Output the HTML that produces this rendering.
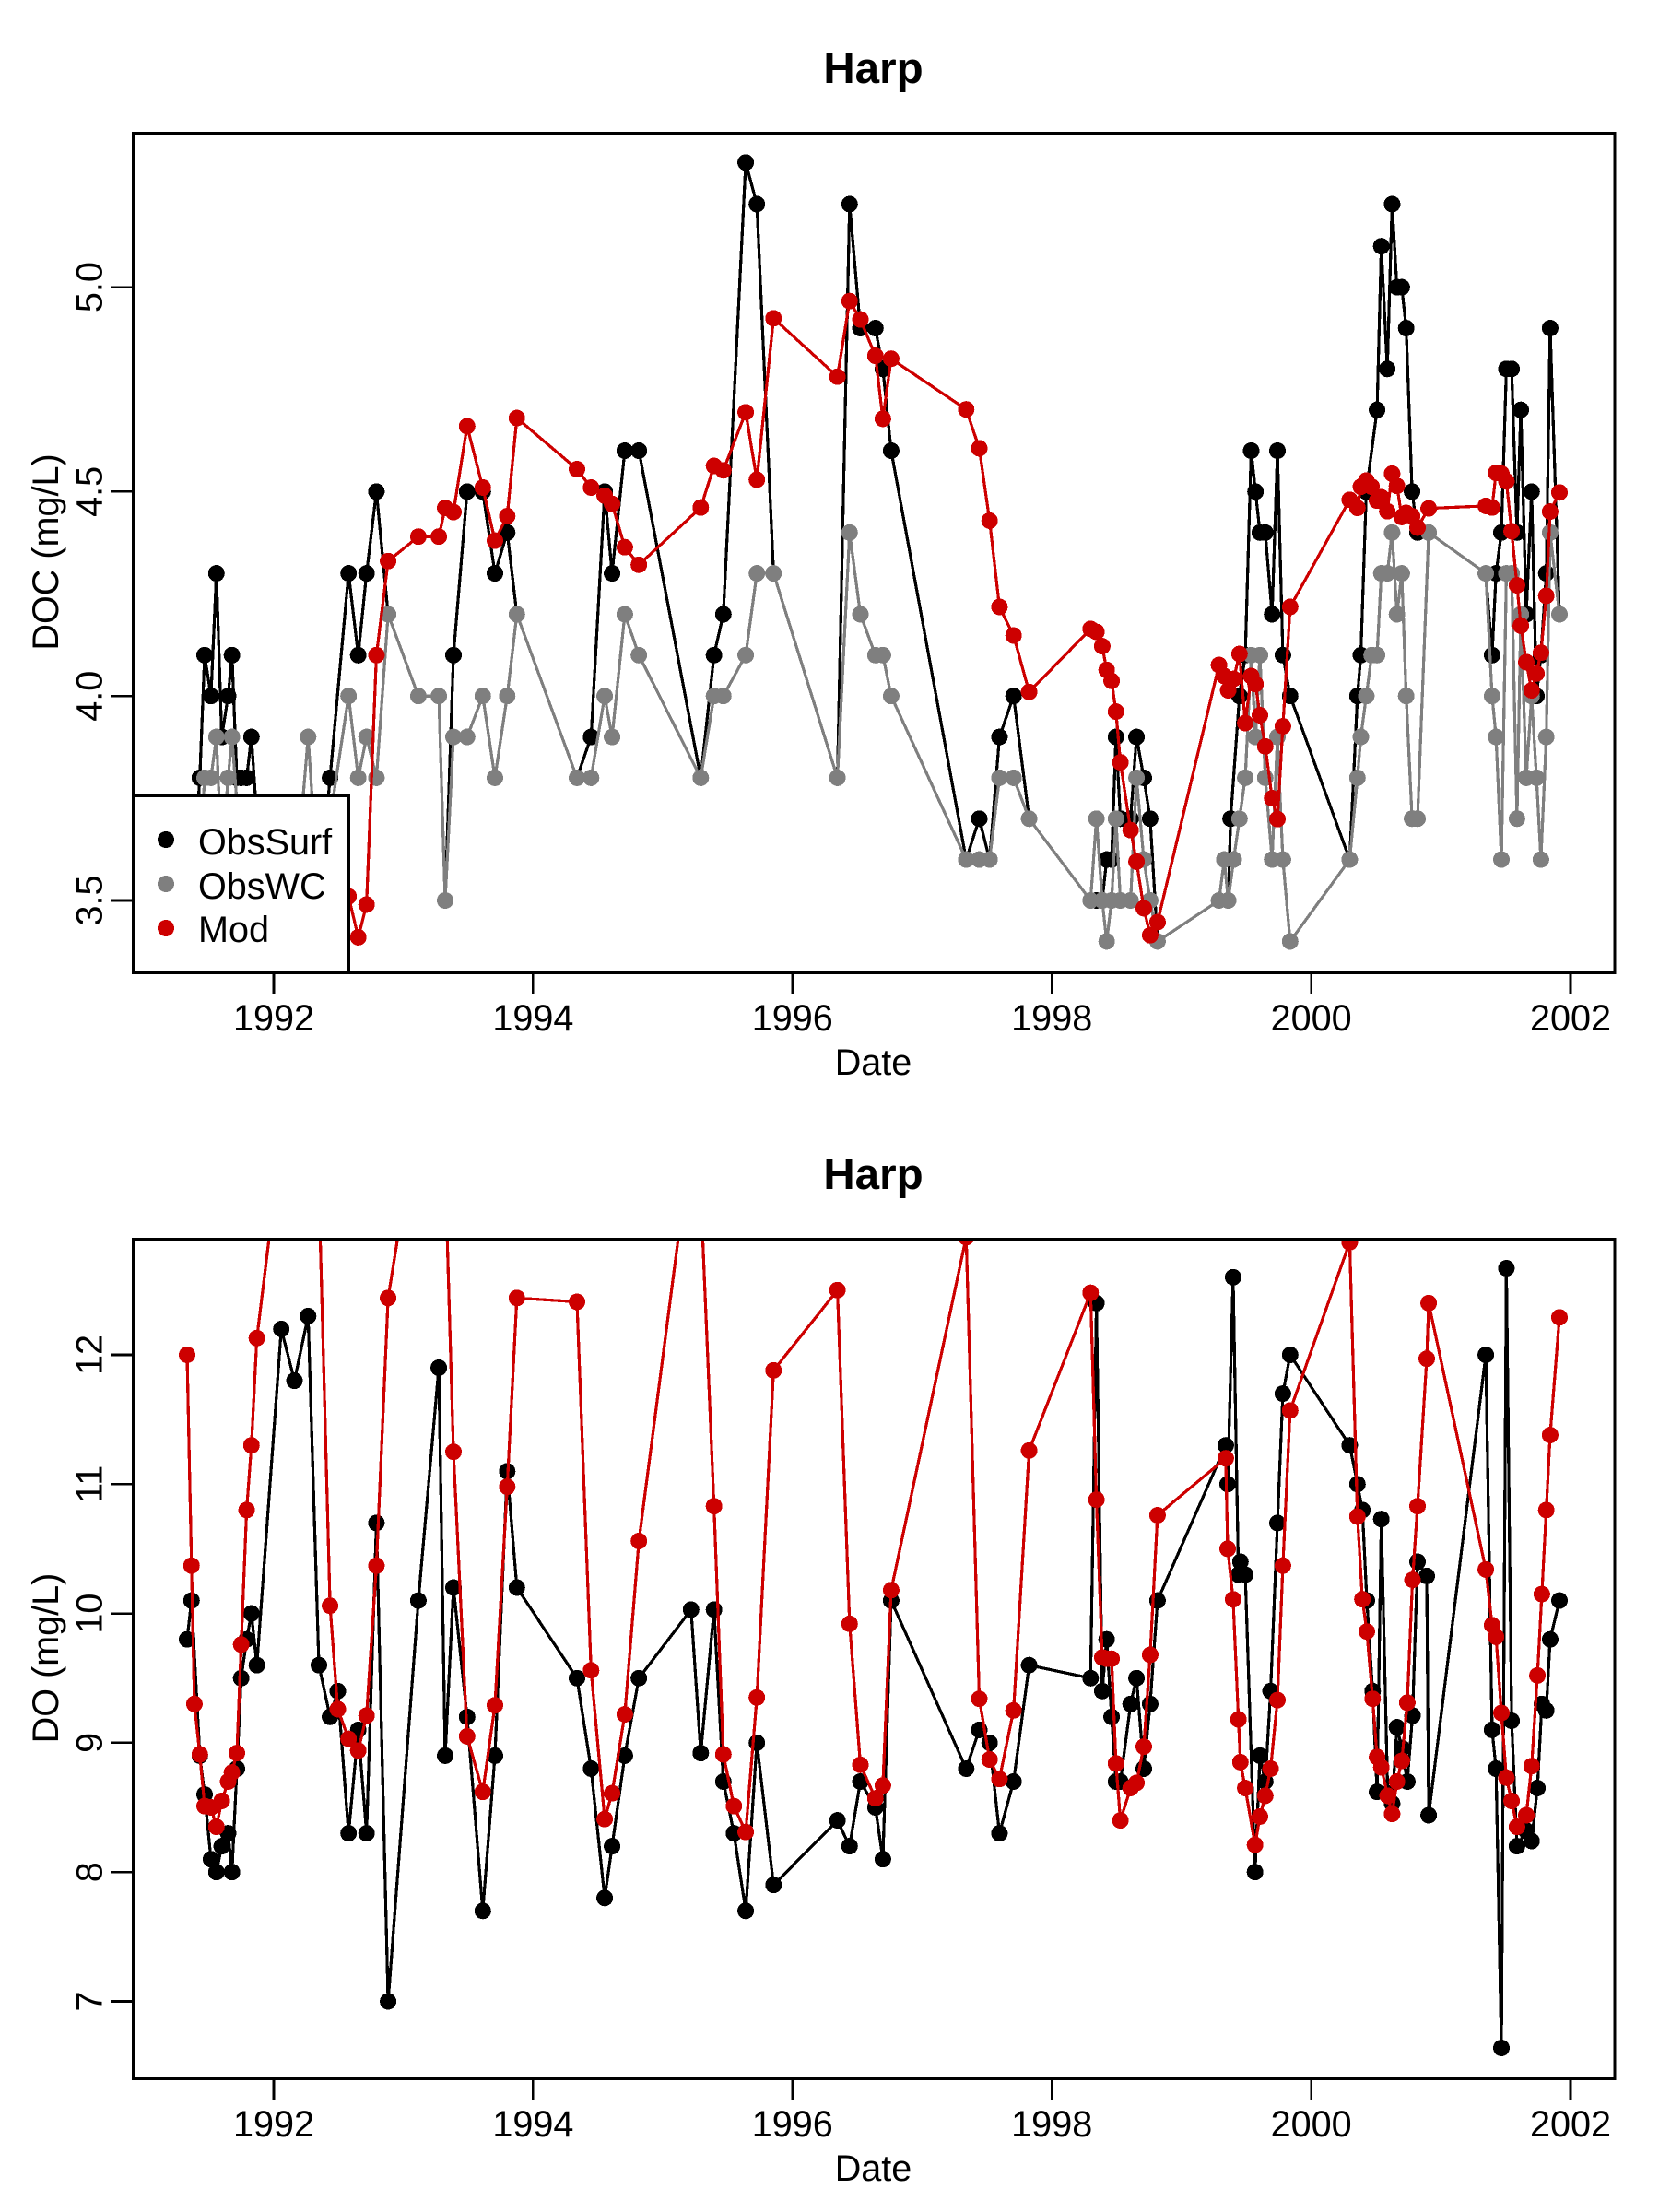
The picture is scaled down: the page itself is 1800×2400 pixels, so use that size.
<!DOCTYPE html>
<html lang="en">
<head>
<meta charset="utf-8">
<title>Harp DOC and DO time series</title>
<style>
html,body{margin:0;padding:0;background:#fff;}
svg{display:block;font-family:"Liberation Sans",Arial,sans-serif;}
.mk{shape-rendering:crispEdges;}
text{fill:#000;}
</style>
</head>
<body>
<svg id="chart" width="1800" height="2400" viewBox="0 0 1800 2400" xmlns="http://www.w3.org/2000/svg">
  <rect x="0" y="0" width="1800" height="2400" fill="#fff"/>
  <defs>
    <clipPath id="clip-doc"><rect x="144.5" y="144" width="1607.5" height="911"/></clipPath>
    <clipPath id="clip-do"><rect x="144.5" y="1344" width="1607.5" height="911"/></clipPath>
  </defs>

  <g id="panel-doc">
    <text x="947.5" y="90" font-size="47.5" font-weight="bold" text-anchor="middle">Harp</text>
    <g id="doc-marks" clip-path="url(#clip-doc)"></g>
    <g id="doc-axes"></g>
    <text x="947.5" y="1166" font-size="39.6" text-anchor="middle">Date</text>
    <text transform="translate(63,599) rotate(-90)" font-size="39.6" text-anchor="middle">DOC (mg/L)</text>
    <g>
      <rect class="mk" x="144.5" y="863.5" width="234" height="192" fill="#fff" stroke="#000" stroke-width="3"/>
      <g>
        <circle class="mk" cx="180" cy="911" r="9" fill="#000"/>
        <text x="215" y="927" font-size="39.6">ObsSurf</text>
      </g>
      <g>
        <circle class="mk" cx="180" cy="959" r="9" fill="#7f7f7f"/>
        <text x="215" y="975" font-size="39.6">ObsWC</text>
      </g>
      <g>
        <circle class="mk" cx="180" cy="1007" r="9" fill="#cd0000"/>
        <text x="215" y="1022" font-size="39.6">Mod</text>
      </g>
    </g>
  </g>

  <g id="panel-do">
    <text x="947.5" y="1290" font-size="47.5" font-weight="bold" text-anchor="middle">Harp</text>
    <g id="do-marks" clip-path="url(#clip-do)"></g>
    <g id="do-axes"></g>
    <text x="947.5" y="2366" font-size="39.6" text-anchor="middle">Date</text>
    <text transform="translate(63,1799) rotate(-90)" font-size="39.6" text-anchor="middle">DO (mg/L)</text>
  </g>
</svg>

<script>
const xTickYears = [1992, 1994, 1996, 1998, 2000, 2002];
const docTickValues = [3.5, 4.0, 4.5, 5.0];
const docTickLabels = ["3.5", "4.0", "4.5", "5.0"];
const doTickValues = [7, 8, 9, 10, 11, 12];
const doTickLabels = ["7", "8", "9", "10", "11", "12"];

const docDates = [
1991.332,1991.366,1991.388,1991.430,1991.467,1991.516,1991.558,1991.599,1991.648,1991.678,1991.716,1991.749,1991.791,1991.828,1991.870,
1992.058,1992.160,1992.265,1992.348,1992.434,
1992.577,1992.652,1992.716,1992.792,1992.882,1993.115,1993.273,1993.322,1993.386,1993.491,1993.612,1993.706,1993.800,1993.875,
1994.338,1994.447,1994.552,1994.609,1994.707,1994.816,
1995.293,1995.395,1995.467,1995.640,1995.726,1995.854,
1996.347,1996.441,1996.524,1996.640,1996.697,1996.761,
1997.340,1997.441,1997.520,1997.596,1997.705,1997.825,
1998.299,1998.344,1998.389,1998.423,1998.461,1998.495,1998.529,1998.608,1998.653,1998.709,1998.758,1998.815,
1999.289,1999.330,1999.360,1999.379,1999.402,1999.447,1999.492,1999.537,1999.571,1999.605,1999.646,1999.699,1999.740,1999.782,1999.838,
2000.297,2000.357,2000.383,2000.425,2000.466,2000.508,2000.541,2000.587,2000.624,2000.662,2000.699,2000.733,2000.778,2000.820,2000.906,
2001.347,2001.395,2001.426,2001.467,2001.505,2001.546,2001.587,2001.617,2001.659,2001.700,2001.738,2001.772,2001.813,2001.843,2001.915
];
const docObsSurf = [
3.7,3.7,3.6,3.8,4.1,4.0,4.3,3.9,4.0,4.1,3.8,3.8,3.8,3.9,3.7,
3.5,3.6,3.6,3.5,3.8,
4.3,4.1,4.3,4.5,4.2,4.0,4.0,3.5,4.1,4.5,4.5,4.3,4.4,4.2,
3.8,3.9,4.5,4.3,4.6,4.6,
3.8,4.1,4.2,5.305,5.203,4.3,
3.8,5.203,4.9,4.9,4.8,4.6,
3.6,3.7,3.6,3.9,4.0,3.7,
3.5,3.5,3.5,3.6,3.6,3.9,3.7,3.7,3.9,3.8,3.7,3.4,
3.5,3.6,3.5,3.7,null,4.0,4.1,4.6,4.5,4.4,4.4,4.2,4.6,4.1,4.0,
3.6,4.0,4.1,4.5,null,4.7,5.1,4.8,5.203,5.0,5.0,4.9,4.5,4.4,4.4,
4.3,4.1,4.3,4.4,4.8,4.8,4.4,4.7,4.2,4.5,4.0,4.1,4.3,4.9,4.2
];
const docObsWC = [
3.6,3.6,3.6,3.6,3.8,3.8,3.9,3.6,3.8,3.9,null,3.6,3.5,3.5,3.6,
3.6,3.5,3.9,3.5,3.7,
4.0,3.8,3.9,3.8,4.2,4.0,4.0,3.5,3.9,3.9,4.0,3.8,4.0,4.2,
3.8,3.8,4.0,3.9,4.2,4.1,
3.8,4.0,4.0,4.1,4.3,4.3,
3.8,4.4,4.2,4.1,4.1,4.0,
3.6,3.6,3.6,3.8,3.8,3.7,
3.5,3.7,3.5,3.4,3.5,3.7,3.5,3.5,3.8,3.6,3.5,3.4,
3.5,3.6,3.5,null,3.6,3.7,3.8,4.1,3.9,4.1,3.8,3.6,3.9,3.6,3.4,
3.6,3.8,3.9,4.0,4.1,4.1,4.3,4.3,4.4,4.2,4.3,4.0,3.7,3.7,4.4,
4.3,4.0,3.9,3.6,4.3,4.3,3.7,4.2,3.8,4.0,3.8,3.6,3.9,4.4,4.2
];
const docMod = [
3.6,3.7,3.6,3.55,3.5,3.5,3.5,3.5,3.5,3.5,3.55,3.6,3.6,3.6,3.6,
3.55,3.6,3.65,3.7,3.6,
3.51,3.41,3.49,4.1,4.33,4.39,4.39,4.46,4.45,4.66,4.51,4.38,4.44,4.68,
4.555,4.51,4.49,4.47,4.364,4.321,
4.461,4.563,4.552,4.694,4.529,4.924,
4.781,4.966,4.921,4.832,4.678,4.825,
4.701,4.606,4.429,4.218,4.148,4.010,
4.164,4.157,4.122,4.064,4.037,3.962,3.838,3.672,3.595,3.481,3.415,3.447,
4.076,4.049,4.014,null,4.042,4.103,3.934,4.049,4.029,3.953,3.877,3.750,3.699,3.926,4.218,
4.48,4.46,4.512,4.527,4.512,4.478,4.486,4.452,4.544,4.514,4.438,4.448,4.440,4.412,4.459,
4.465,4.461,4.546,4.544,4.525,4.403,4.271,4.172,4.083,4.014,4.055,4.106,4.245,4.451,4.498
];

const doDates = [
1991.332,1991.366,1991.388,1991.430,1991.467,1991.516,1991.558,1991.599,1991.648,1991.678,1991.716,1991.749,1991.791,1991.828,1991.870,
1992.058,1992.160,1992.265,1992.348,1992.434,1992.494,1992.577,1992.652,1992.716,1992.792,1992.882,
1993.115,1993.273,1993.322,1993.386,1993.491,1993.612,1993.706,1993.800,1993.875,
1994.338,1994.447,1994.552,1994.609,1994.707,1994.816,
1995.218,1995.293,1995.395,1995.467,1995.549,1995.640,1995.726,1995.854,
1996.347,1996.441,1996.524,1996.640,1996.697,1996.761,
1997.340,1997.441,1997.520,1997.596,1997.705,1997.825,
1998.299,1998.344,1998.389,1998.423,1998.461,1998.495,1998.529,1998.608,1998.653,1998.709,1998.758,1998.815,
1999.341,1999.356,1999.398,1999.439,1999.454,1999.492,1999.567,1999.605,1999.646,1999.687,1999.740,1999.782,1999.838,
2000.297,2000.357,2000.395,2000.429,2000.474,2000.508,2000.541,2000.590,2000.624,2000.662,2000.699,2000.741,2000.782,2000.820,2000.891,2000.906,
2001.347,2001.395,2001.426,2001.467,2001.505,2001.546,2001.587,2001.659,2001.700,2001.745,2001.779,2001.813,2001.843,2001.915
];
const doObsSurf = [
9.8,10.1,null,8.9,8.6,8.1,8.0,8.2,8.3,8.0,8.8,9.5,9.8,10.0,9.6,
12.2,11.8,12.3,9.6,9.2,9.4,8.3,9.1,8.3,10.7,7.0,
10.1,11.9,8.9,10.2,9.2,7.7,8.9,11.1,10.2,
9.5,8.8,7.8,8.2,8.9,9.5,
10.03,8.92,10.03,8.7,8.3,7.7,9.0,7.9,
8.4,8.2,8.7,8.5,8.1,10.1,
8.8,9.1,9.0,8.3,8.7,9.6,
9.5,12.4,9.4,9.8,9.2,8.7,8.7,9.3,9.5,8.8,9.3,10.1,
11.3,11.0,12.6,10.3,10.4,10.3,8.0,8.9,8.7,9.4,10.7,11.7,12.0,
11.3,11.0,10.8,10.1,9.4,8.62,10.73,8.61,8.53,9.12,8.96,8.70,9.21,10.4,10.29,8.44,
12.0,9.1,8.8,6.64,12.67,9.17,8.2,8.32,8.24,8.65,9.3,9.25,9.8,10.1
];
const doMod = [
12.0,10.37,9.30,8.91,8.51,8.50,8.35,8.55,8.70,8.77,8.92,9.76,10.80,11.30,12.13,
13.67,14.0,14.0,13.29,10.06,9.26,9.03,8.94,9.21,10.37,12.44,
13.9,14.0,13.45,11.25,9.05,8.62,9.29,10.98,12.44,
12.41,9.56,8.41,8.61,9.22,10.56,
13.66,13.26,10.83,8.91,8.51,8.31,9.35,11.88,
12.5,9.92,8.83,8.57,8.67,10.18,
12.91,9.34,8.87,8.72,9.25,11.26,
12.48,10.88,9.66,9.65,9.65,8.84,8.40,8.65,8.69,8.97,9.68,10.76,
11.20,10.50,10.11,9.18,8.85,8.65,8.21,8.43,8.59,8.80,9.33,10.37,11.57,
12.87,10.75,10.11,9.86,9.34,8.89,8.81,8.59,8.45,8.70,8.86,9.31,10.26,10.83,11.97,12.40,
10.34,9.91,9.82,9.23,8.73,8.55,8.35,8.44,8.82,9.52,10.15,10.8,11.38,12.29
];

const SVGNS = "http://www.w3.org/2000/svg";

function xScale(year) {
  return 297 + (year - 1992) * 140.7;
}
function yScaleDoc(v) {
  return 977 - (v - 3.5) * 443.6;
}
function yScaleDo(v) {
  return 2171.5 - (v - 7) * 140.3;
}

function drawSeries(parent, dates, values, yScale, color, seriesName) {
  const pts = [];
  for (let i = 0; i < dates.length; i++) {
    if (values[i] !== null) {
      pts.push([xScale(dates[i]), yScale(values[i])]);
    }
  }
  const line = document.createElementNS(SVGNS, "polyline");
  
  
  line.setAttribute("points", pts.map(function (p) { return p[0].toFixed(1) + "," + p[1].toFixed(1); }).join(" "));
  line.setAttribute("fill", "none");
  line.setAttribute("stroke", color);
  line.setAttribute("stroke-width", "3.2");
  line.setAttribute("stroke-linejoin", "round");
  line.setAttribute("class", "mk");
  parent.appendChild(line);
  pts.forEach(function (p) {
    const c = document.createElementNS(SVGNS, "circle");
    
    
    c.setAttribute("cx", p[0].toFixed(1));
    c.setAttribute("cy", p[1].toFixed(1));
    c.setAttribute("r", "9");
    c.setAttribute("fill", color);
    c.setAttribute("class", "mk");
    parent.appendChild(c);
  });
}

function addLine(parent, x1, y1, x2, y2, width, name) {
  const l = document.createElementNS(SVGNS, "line");
  
  
  l.setAttribute("x1", x1);
  l.setAttribute("y1", y1);
  l.setAttribute("x2", x2);
  l.setAttribute("y2", y2);
  l.setAttribute("stroke", "#000");
  l.setAttribute("stroke-width", width);
  l.setAttribute("class", "mk");
  parent.appendChild(l);
}

function drawAxes(parent, top, bottom, yVals, yLabels, yScale, prefix) {
  const box = document.createElementNS(SVGNS, "rect");
  
  
  box.setAttribute("x", "144.5");
  box.setAttribute("y", top + 0.5);
  box.setAttribute("width", "1607.5");
  box.setAttribute("height", bottom - top);
  box.setAttribute("fill", "none");
  box.setAttribute("stroke", "#000");
  box.setAttribute("stroke-width", "3");
  box.setAttribute("class", "mk");
  parent.appendChild(box);

  xTickYears.forEach(function (yr) {
    const x = xScale(yr);
    addLine(parent, x, bottom, x, bottom + 24, 2.6, prefix + "-x-tick");
    const t = document.createElementNS(SVGNS, "text");
    
    
    t.setAttribute("x", x);
    t.setAttribute("y", bottom + 63);
    t.setAttribute("font-size", "39.6");
    t.setAttribute("text-anchor", "middle");
    t.textContent = String(yr);
    parent.appendChild(t);
  });

  yVals.forEach(function (v, i) {
    const y = yScale(v);
    addLine(parent, 120, y, 144.5, y, 2.6, prefix + "-y-tick");
    const t = document.createElementNS(SVGNS, "text");
    
    
    t.setAttribute("transform", "translate(110.5," + y + ") rotate(-90)");
    t.setAttribute("font-size", "39.6");
    t.setAttribute("text-anchor", "middle");
    t.textContent = yLabels[i];
    parent.appendChild(t);
  });
}

const docMarks = document.getElementById("doc-marks");
drawSeries(docMarks, docDates, docObsSurf, yScaleDoc, "#000000", "doc-obssurf");
drawSeries(docMarks, docDates, docObsWC, yScaleDoc, "#7f7f7f", "doc-obswc");
drawSeries(docMarks, docDates, docMod, yScaleDoc, "#cd0000", "doc-mod");
drawAxes(document.getElementById("doc-axes"), 144, 1055, docTickValues, docTickLabels, yScaleDoc, "doc");

const doMarks = document.getElementById("do-marks");
drawSeries(doMarks, doDates, doObsSurf, yScaleDo, "#000000", "do-obssurf");
drawSeries(doMarks, doDates, doMod, yScaleDo, "#cd0000", "do-mod");
drawAxes(document.getElementById("do-axes"), 1344, 2255, doTickValues, doTickLabels, yScaleDo, "do");
</script>
</body>
</html>
